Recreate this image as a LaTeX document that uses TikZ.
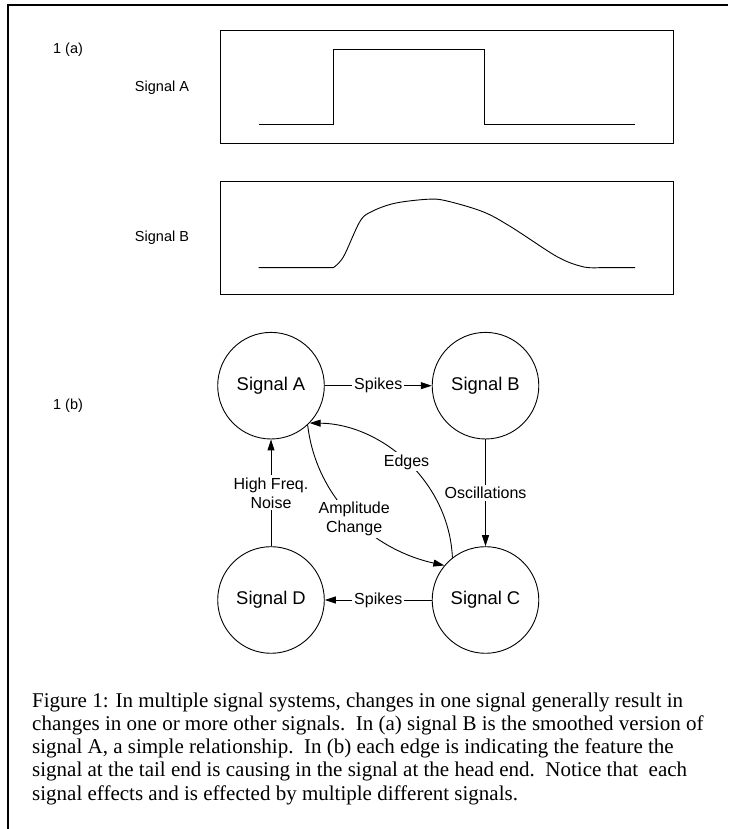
\documentclass[tikz,border=0pt]{standalone}
\usepackage{fontspec}
\setmainfont{Liberation Serif}
\setsansfont{Liberation Sans}
\usetikzlibrary{arrows.meta}
\begin{document}
\begin{tikzpicture}[x=1pt,y=1pt,
  sig/.style={circle, draw, line width=0.9pt, minimum size=106.6pt, inner sep=0pt, font=\sffamily\fontsize{18.4}{20}\selectfont},
  lbl/.style={fill=white, inner sep=2pt, font=\sffamily\fontsize{16}{19}\selectfont, align=center},
  edgearrow/.style={line width=0.9pt, -{Triangle[length=11pt,width=7pt]}},
  boxframe/.style={draw, line width=0.9pt},
  wave/.style={line width=0.9pt},
  tag/.style={font=\sffamily\fontsize{14.5}{18}\selectfont, inner sep=0pt},
  captionline/.style={anchor=base west, inner sep=0pt, font=\fontsize{21}{23.3}\selectfont}
]
\useasboundingbox (0,0) rectangle (728,829);
% outer frame (top and left)
\draw[line width=2pt] (8,0) -- (8,823.5) -- (728,823.5);

% part (a)
\node[tag] (taga) at (68,779) {1 (a)};
\node[tag] (labA) at (162,741.7) {Signal A};
\node[tag] (labB) at (162,591.7) {Signal B};
\draw[boxframe] (220.5,686) rectangle (673,799);
\draw[boxframe] (220.5,535) rectangle (673,648);
\draw[wave] (258.6,704.3) -- (333.3,704.3) -- (333.3,779.7) -- (484.7,779.7) -- (484.7,704.3) -- (635,704.3);
\draw[wave] (258.6,561.3) -- (333.3,561.3) -- plot[smooth, tension=0.55] coordinates {
  (333.3,561.3) (343.5,572.3) (359.8,607.3) (371.4,617.3) (394.6,625.7) (427.1,629.7)
  (445.7,628.3) (482.8,617.3) (510.7,602.3) (557.1,572.3) (582.6,562.3) (598.9,561.3)} -- (635,561.3);

% part (b)
\node[tag] (tagb) at (68,423) {1 (b)};
\node[sig] (A) at (271,443.3) {Signal A};
\node[sig] (B) at (485.5,443.3) {Signal B};
\node[sig] (D) at (271,229) {Signal D};
\node[sig] (C) at (485.5,229) {Signal C};

\draw[edgearrow] (A) -- node[lbl] {Spikes} (B);
\draw[edgearrow] (C) -- node[lbl] {Spikes} (D);
\draw[edgearrow] (B) -- node[lbl] {Oscillations} (C);
\draw[edgearrow] (D) -- node[lbl] {High Freq.\\Noise} (A);
\draw[edgearrow] (C.128) .. controls (449,348) and (381,405) .. node[lbl, pos=0.5] {Edges} (A.-44);
\draw[edgearrow] (A.-47) .. controls (316,333) and (370,280) .. node[lbl, pos=0.52] {Amplitude\\Change} (C.140);

% caption
\node[captionline] (cap1) at (32,121.7) {Figure 1: In multiple signal systems, changes in one signal generally result in};
\node[captionline] (cap2) at (32,98.7) {changes in one or more other signals.\ \ In (a) signal B is the smoothed version of};
\node[captionline] (cap3) at (32,75.2) {signal A, a simple relationship.\ \ In (b) each edge is indicating the feature the};
\node[captionline] (cap4) at (32,52) {signal at the tail end is causing in the signal at the head end.\ \ Notice that\ \ each};
\node[captionline] (cap5) at (32,28.5) {signal effects and is effected by multiple different signals.};
\end{tikzpicture}
\end{document}
